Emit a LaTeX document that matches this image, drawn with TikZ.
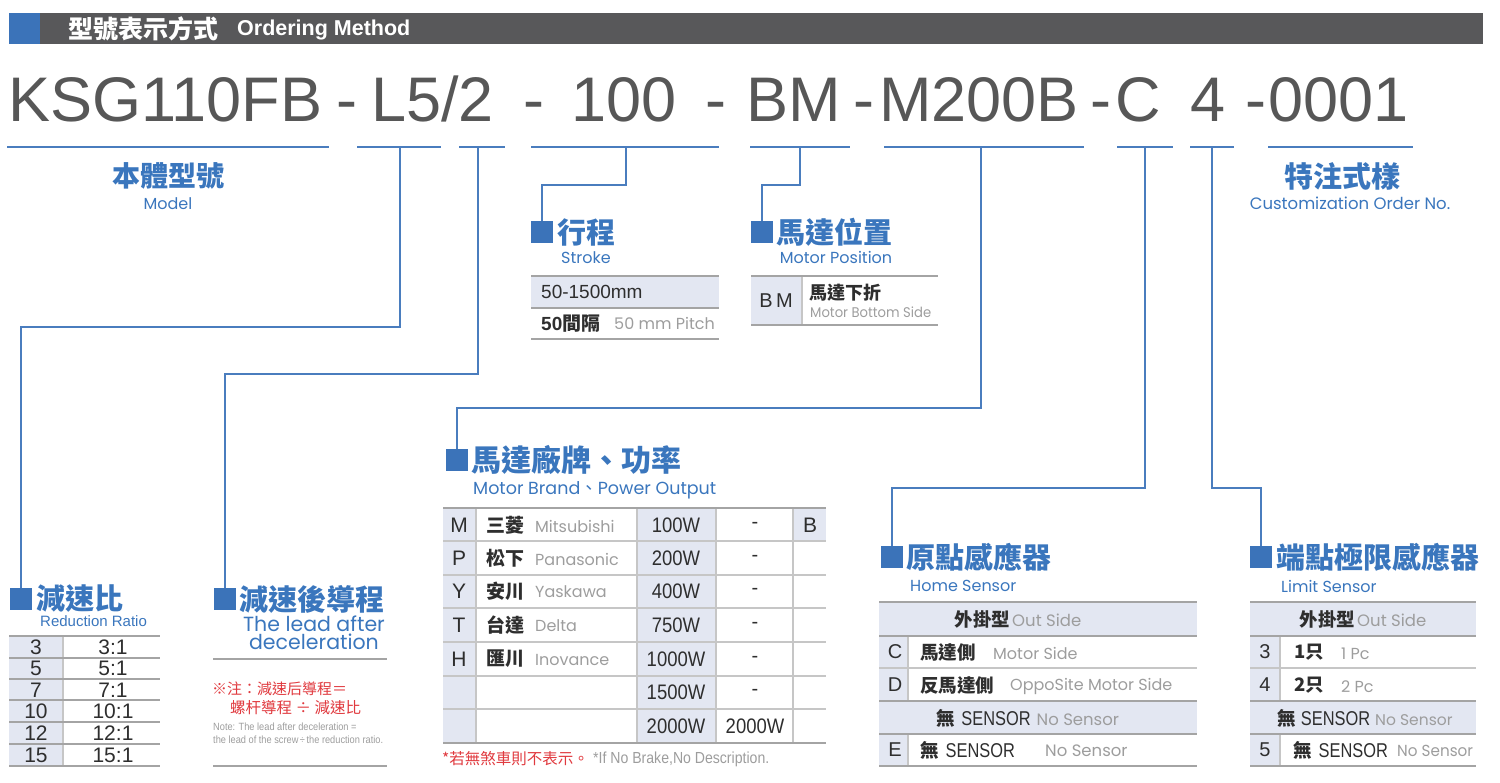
\documentclass[tikz,border=0pt]{standalone}
\usepackage{fontspec}
\setmainfont{Liberation Sans}
\newfontfamily\cjk{Noto Sans CJK TC}
\newfontfamily\geo{Poppins}
\usetikzlibrary{calc}
\definecolor{barGray}{HTML}{58585A}
\definecolor{codeGray}{HTML}{575757}
\definecolor{lineBlue}{HTML}{4A7DBE}
\definecolor{titleBlue}{HTML}{3A76BD}
\definecolor{sqBlue}{HTML}{3B73B9}
\definecolor{tblLine}{HTML}{A4A4A4}
\definecolor{tblInner}{HTML}{C6C6C6}
\definecolor{tblFill}{HTML}{E3E7F2}
\definecolor{subGray}{HTML}{9D9D9D}
\definecolor{txtDark}{HTML}{2E2E2E}
\definecolor{noteRed}{HTML}{E0393E}
\newcommand{\fs}[1]{\fontsize{#1}{#1}\selectfont}
\newcommand{\nr}[1]{\scalebox{0.88}[1]{#1}}
\newcommand{\sensor}{{\fs{20}\scalebox{0.82}[1]{SENSOR}}}
\tikzset{
  conn/.style={draw=lineBlue, line width=1.6pt},
  uline/.style={draw=lineBlue, line width=1.6pt},
  sq/.style={fill=sqBlue, minimum size=22pt, inner sep=0pt, draw=none},
  hd/.style={anchor=west, inner sep=0pt, text=titleBlue, font=\cjk\bfseries\fs{29}},
  sub/.style={anchor=west, inner sep=0pt, text=titleBlue, font=\geo\fs{16}},
  code/.style={anchor=base west, inner sep=0pt, text=codeGray, font=\fs{63}},
  tline/.style={draw=tblLine, line width=1.6pt},
  tinner/.style={draw=tblInner, line width=1.1pt},
  cell/.style={inner sep=0pt, text=txtDark, font=\fs{20}},
  cellw/.style={anchor=west, inner sep=0pt, text=txtDark},
  gr/.style={anchor=west, inner sep=0pt, text=subGray, font=\geo\fs{16}},
}
\begin{document}
\begin{tikzpicture}[x=1pt,y=-1pt]
\useasboundingbox (0,0) rectangle (1500,783);
% header
\fill[barGray] (9,13) rectangle (1483,44);
\fill[sqBlue] (9,13) rectangle (40,44);
\node[anchor=west, inner sep=0pt, text=white, font=\cjk\bfseries\fs{25}] (title) at (68,29) {型號表示方式};
\node[anchor=west, inner sep=0pt, text=white, font=\bfseries\fs{21.5}] (titleEn) at (237,30) {Ordering Method};
% code line
\node[code] (cA) at (8,122) {KSG110FB};
\node[code] (h1) at (336,122) {-};
\node[code] (cB) at (371,122) {L5/2};
\node[code] (h2) at (523,122) {-};
\node[code] (cC) at (571,122) {100};
\node[code] (h3) at (705,122) {-};
\node[code] (cD) at (746,122) {BM};
\node[code] (h4) at (853,122) {-};
\node[code] (cE) at (879,122) {M200B};
\node[code] (h5) at (1090,122) {-};
\node[code] (cF) at (1115,122) {C};
\node[code] (cG) at (1190,122) {4};
\node[code] (h6) at (1245,122) {-};
\node[code] (cH) at (1268,122) {0001};
% underlines
\draw[uline] (7,147) -- (329,147);
\draw[uline] (357,147) -- (441,147);
\draw[uline] (459,147) -- (505,147);
\draw[uline] (531,147) -- (719,147);
\draw[uline] (750,147) -- (850,147);
\draw[uline] (884,147) -- (1084,147);
\draw[uline] (1117,147) -- (1173,147);
\draw[uline] (1190,147) -- (1234,147);
\draw[uline] (1268,147) -- (1413,147);
\coordinate (uL) at (400,147);
\coordinate (uR) at (478,147);
\coordinate (uS) at (626,147);
\coordinate (uP) at (800,147);
\coordinate (uM) at (981,147);
\coordinate (uC) at (1145,147);
\coordinate (uN) at (1212,147);
% model / custom labels
\node[inner sep=0pt, text=titleBlue, font=\cjk\bfseries\fs{28}] (model) at (168,176) {本體型號};
\node[inner sep=0pt, text=titleBlue, font=\geo\fs{16}] (modelEn) at (168,204) {Model};
\node[inner sep=0pt, text=titleBlue, font=\cjk\bfseries\fs{29}] (cust) at (1342,176) {特注式樣};
\node[inner sep=0pt, text=titleBlue, font=\geo\fs{16.5}] (custEn) at (1350,203) {Customization Order No.};
% squares
\node[sq] (sqRed) at (21,599) {};
\node[sq] (sqLead) at (225,599) {};
\node[sq] (sqStroke) at (542,232) {};
\node[sq] (sqPos) at (762,232) {};
\node[sq] (sqMotor) at (457,460) {};
\node[sq] (sqHome) at (892,557) {};
\node[sq] (sqLimit) at (1261,557) {};
% connectors
\draw[conn] (uL) -- (400,327) -| (sqRed.north);
\draw[conn] (uR) -- (478,374) -| (sqLead.north);
\draw[conn] (uS) -- (626,185) -| (sqStroke.north);
\draw[conn] (uP) -- (800,185) -| (sqPos.north);
\draw[conn] (uM) -- (981,408) -| (sqMotor.north);
\draw[conn] (uC) -- (1145,488) -| (sqHome.north);
\draw[conn] (uN) -- (1212,488) -| (sqLimit.north);
% ---- Stroke
\node[hd] (hStroke) at (557,232) {行程};
\node[inner sep=0pt, text=titleBlue, font=\geo\fs{16}] (sStroke) at (586,258) {Stroke};
\fill[tblFill] (531,277) rectangle (719,307);
\draw[tline] (531,276) -- (719,276);
\draw[tline] (531,308) -- (719,308);
\draw[tline] (531,339) -- (719,339);
\node[cellw, font=\fs{19}] (st1) at (541,292) {50-1500mm};
\node[cellw, font=\bfseries\fs{19}] (st2) at (541,324) {50{\cjk 間隔}};
\node[gr] (st2e) at (614,323) {50 mm Pitch};
% ---- Motor position
\node[hd] (hPos) at (776,232) {馬達位置};
\node[inner sep=0pt, text=titleBlue, font=\geo\fs{16}] (sPos) at (836,257) {Motor Position};
\fill[tblFill] (751,277) rectangle (802,324);
\draw[tinner] (802,277) -- (802,324);
\draw[tline] (751,276) -- (938,276);
\draw[tline] (751,325) -- (938,325);
\node[cell, font=\fs{20}] (bm) at (776,301) {B\,M};
\node[cellw, font=\cjk\bfseries\fs{18}] (bmz) at (809,293) {馬達下折};
\node[gr, font=\geo\fs{14}] (bme) at (810,312) {\scalebox{0.94}[1]{Motor Bottom Side}};
% ---- Reduction ratio
\node[hd] (hRed) at (36,599) {減速比};
\node[anchor=west, inner sep=0pt, text=titleBlue, font=\fs{15}] (sRed) at (40,621) {Reduction Ratio};
\fill[tblFill] (9,637) rectangle (63,765);
\draw[tinner] (63,637) -- (63,765);
\foreach \yy in {658,679,700,722,744} { \draw[tline, line width=1.2pt] (9,\yy) -- (160,\yy); }
\draw[tline] (9,636) -- (160,636);
\draw[tline] (9,766) -- (160,766);
\foreach \a/\b/\yy [count=\i] in {3/3:1/647, 5/5:1/668, 7/7:1/690, 10/10:1/711, 12/12:1/733, 15/15:1/755} {
  \node[cell, font=\fs{21}] (rA\i) at (36,\yy) {\a};
  \node[cell, font=\fs{21}] (rB\i) at (113,\yy) {\b};
}
% ---- Lead after deceleration
\node[hd] (hLead) at (239,599) {減速後導程};
\node[inner sep=0pt, text=titleBlue, font=\geo\fs{20.5}] (sLead1) at (314,624) {The lead after};
\node[inner sep=0pt, text=titleBlue, font=\geo\fs{20.5}] (sLead2) at (314,642) {deceleration};
\draw[tline] (213,659) -- (387,659);
\node[anchor=west, inner sep=0pt, text=noteRed, font=\cjk\fs{15}] (n1) at (212,689) {※注：減速后導程＝};
\node[anchor=west, inner sep=0pt, text=noteRed, font=\cjk\fs{15.5}] (n2) at (230,708) {螺杆導程 ÷ 減速比};
\node[anchor=west, inner sep=0pt, text=subGray, font=\fs{10.5}] (n3) at (213,727) {\nr{Note: The lead after deceleration =}};
\node[anchor=west, inner sep=0pt, text=subGray, font=\fs{10.5}] (n4) at (213,740) {\nr{the lead of the screw\,÷\,the reduction ratio.}};
\draw[tline] (213,766) -- (387,766);
% ---- Motor brand / power
\node[hd, font=\cjk\bfseries\fs{30}] (hMot) at (471,460) {馬達廠牌、功率};
\node[anchor=west, inner sep=0pt, text=titleBlue, font=\geo\fs{17.5}] (sMot) at (473,490) {Motor Brand{\cjk 、}Power Output};
\fill[tblFill] (443,509) rectangle (476,742);
\fill[tblFill] (637,509) rectangle (716,742);
\fill[tblFill] (793,509) rectangle (826,541);
\foreach \xx in {476,637,716,793} { \draw[tinner] (\xx,509) -- (\xx,742); }
\foreach \yy in {541,575,608,642,676,709} { \draw[tinner] (443,\yy) -- (826,\yy); }
\draw[tline] (443,508) -- (826,508);
\draw[tline] (443,743) -- (826,743);
\foreach \L/\Z/\E/\P/\Q/\yy [count=\i] in {M/三菱/Mitsubishi/100W/-/525, P/松下/Panasonic/200W/-/558, Y/安川/Yaskawa/400W/-/591, T/台達/Delta/750W/-/625, H/匯川/Inovance/1000W/-/659} {
  \node[cell, font=\fs{21}] (mL\i) at (459,\yy) {\L};
  \node[cellw, font=\cjk\bfseries\fs{19}] (mZ\i) at (486,\yy) {\Z};
  \node[gr, font=\geo\fs{16}] (mE\i) at (535,\yy+1) {\E};
  \node[cell, font=\fs{21}] (mP\i) at (676,\yy) {\nr{\P}};
  \node[cell, font=\fs{20}] (mQ\i) at (755,\yy) {\Q};
}
\node[cell, font=\fs{21}] (mP6) at (676,692) {\nr{1500W}};
\node[cell, font=\fs{20}] (mQ6) at (755,692) {-};
\node[cell, font=\fs{21}] (mP7) at (676,726) {\nr{2000W}};
\node[cell, font=\fs{21}] (mQ7) at (755,726) {\nr{2000W}};
\node[cell, font=\fs{21}] (mB) at (810,525) {B};
\node[anchor=west, inner sep=0pt, text=noteRed, font=\cjk\fs{15.5}] (rn) at (442,759) {*若無煞車則不表示。};
\node[anchor=west, inner sep=0pt, text=subGray, font=\fs{16}] (rne) at (593,759) {\nr{*If No Brake,No Description.}};
% ---- Home sensor
\node[hd] (hHome) at (906,557) {原點感應器};
\node[sub] (sHome) at (910,586) {Home Sensor};
\fill[tblFill] (879,603) rectangle (1197,635);
\fill[tblFill] (879,636) rectangle (908,700);
\fill[tblFill] (879,702) rectangle (1197,733);
\fill[tblFill] (879,735) rectangle (908,765);
\draw[tinner] (908,637) -- (908,700);
\draw[tinner] (908,735) -- (908,765);
\draw[tline] (879,602) -- (1197,602);
\draw[tline] (879,636) -- (1197,636);
\draw[tinner] (879,668) -- (1197,668);
\draw[tline] (879,701) -- (1197,701);
\draw[tline] (879,734) -- (1197,734);
\draw[tline] (879,766) -- (1197,766);
\node[inner sep=0pt] (hoR1) at (1018,619) {{\cjk\bfseries\fs{18.5}\color{txtDark}外掛型}\hspace{2pt}{\geo\fs{16.5}\color{subGray}Out Side}};
\node[cell] (hoC) at (895,652) {C};
\node[cellw, font=\cjk\bfseries\fs{18.5}] (hoC2) at (920,652) {馬達側};
\node[gr] (hoC3) at (993,653) {Motor Side};
\node[cell] (hoD) at (895,685) {D};
\node[cellw, font=\cjk\bfseries\fs{18.5}] (hoD2) at (920,685) {反馬達側};
\node[gr] (hoD3) at (1010,686) {OppoSite Motor Side};
\node[inner sep=0pt] (hoR4) at (1028,718) {{\cjk\bfseries\fs{18.5}\color{txtDark}無}\hspace{6pt}{\color{txtDark}\sensor}\hspace{6pt}{\geo\fs{16.5}\color{subGray}No Sensor}};
\node[cell] (hoE) at (895,750) {E};
\node[cellw] (hoE2) at (920,750) {{\cjk\bfseries\fs{18.5}無}\hspace{7pt}\sensor};
\node[gr, font=\geo\fs{16.5}] (hoE3) at (1045,751) {No Sensor};
% ---- Limit sensor
\node[hd] (hLim) at (1276,557) {端點極限感應器};
\node[sub] (sLim) at (1281,586) {Limit Sensor};
\fill[tblFill] (1250,603) rectangle (1476,635);
\fill[tblFill] (1250,636) rectangle (1280,700);
\fill[tblFill] (1250,702) rectangle (1476,733);
\fill[tblFill] (1250,735) rectangle (1280,765);
\draw[tinner] (1280,637) -- (1280,700);
\draw[tinner] (1280,735) -- (1280,765);
\draw[tline] (1250,602) -- (1476,602);
\draw[tline] (1250,636) -- (1476,636);
\draw[tinner] (1250,668) -- (1476,668);
\draw[tline] (1250,701) -- (1476,701);
\draw[tline] (1250,734) -- (1476,734);
\draw[tline] (1250,766) -- (1476,766);
\node[inner sep=0pt] (liR1) at (1363,619) {{\cjk\bfseries\fs{18.5}\color{txtDark}外掛型}\hspace{2pt}{\geo\fs{16.5}\color{subGray}Out Side}};
\node[cell] (li3) at (1265,652) {3};
\node[cellw, font=\cjk\bfseries\fs{18.5}] (li3b) at (1294,652) {1只};
\node[gr, font=\geo\fs{16}] (li3c) at (1341,654) {1 Pc};
\node[cell] (li4) at (1265,685) {4};
\node[cellw, font=\cjk\bfseries\fs{18.5}] (li4b) at (1294,685) {2只};
\node[gr, font=\geo\fs{16}] (li4c) at (1341,687) {2 Pc};
\node[inner sep=0pt] (liR4) at (1365,718) {{\cjk\bfseries\fs{18.5}\color{txtDark}無}\hspace{5pt}{\color{txtDark}\sensor}\hspace{5pt}{\geo\fs{15.5}\color{subGray}No Sensor}};
\node[cell] (li5) at (1265,750) {5};
\node[cellw] (li5b) at (1293,750) {{\cjk\bfseries\fs{18.5}無}\hspace{7pt}\sensor};
\node[gr, font=\geo\fs{16}] (li5c) at (1397,751) {\scalebox{0.95}[1]{No Sensor}};
\end{tikzpicture}
\end{document}
